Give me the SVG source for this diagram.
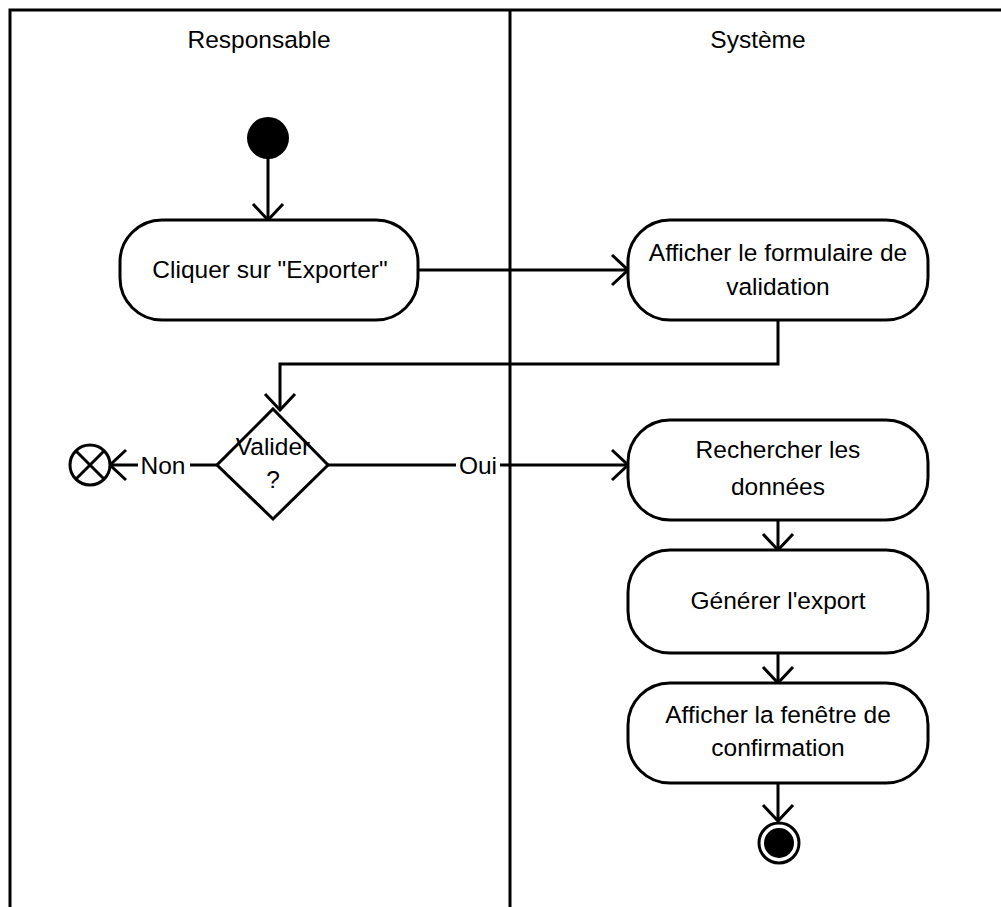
<svg xmlns="http://www.w3.org/2000/svg" width="1001" height="907" viewBox="0 0 1001 907">
<style>
.ln{fill:none;stroke:#000;stroke-width:3}
.box{fill:#fff;stroke:#000;stroke-width:3}
.t{font-family:"Liberation Sans",Arial,sans-serif;font-size:24.5px;fill:#000;text-anchor:middle}
</style>
<defs>
<marker id="arr" viewBox="0 0 20 34" refX="18" refY="17" markerWidth="20" markerHeight="34" markerUnits="userSpaceOnUse" orient="auto">
<path d="M2,2 L18,17 L2,32" fill="none" stroke="#000" stroke-width="3"/>
</marker>
</defs>
<rect width="1001" height="907" fill="#fff"/>
<g id="lanes">
<path class="ln" d="M10,907 V10 H1001"/>
<path class="ln" d="M510,10 V907"/>
<text class="t" x="259" y="48">Responsable</text>
<text class="t" x="758" y="48">Système</text>
</g>
<g id="connectors">
<path class="ln" d="M268,158 V220" marker-end="url(#arr)"/>
<path class="ln" d="M418,270 H628" marker-end="url(#arr)"/>
<path class="ln" d="M778,320 V364 H280 V410" marker-end="url(#arr)"/>
<path class="ln" d="M217,465 H190"/>
<path class="ln" d="M138,465 H110" marker-end="url(#arr)"/>
<text class="t" x="163" y="474">Non</text>
<path class="ln" d="M328,465 H456"/>
<path class="ln" d="M500,465 H628" marker-end="url(#arr)"/>
<text class="t" x="478" y="474">Oui</text>
<path class="ln" d="M778,520 V550" marker-end="url(#arr)"/>
<path class="ln" d="M778,653 V683" marker-end="url(#arr)"/>
<path class="ln" d="M778,783 V821" marker-end="url(#arr)"/>
</g>
<g id="start">
<circle cx="268" cy="138" r="21" fill="#000"/>
</g>
<g id="cliquer">
<rect class="box" x="120" y="220" width="298" height="100" rx="42"/>
<text class="t" x="270" y="278">Cliquer sur "Exporter"</text>
</g>
<g id="afficher-formulaire">
<rect class="box" x="628" y="220" width="300" height="100" rx="42"/>
<text class="t" x="778" y="261">Afficher le formulaire de</text>
<text class="t" x="778" y="295">validation</text>
</g>
<g id="valider">
<path class="box" d="M273,409 L328,465 L273,519 L217,465 Z"/>
<text class="t" x="273" y="455">Valider</text>
<text class="t" x="273" y="488">?</text>
</g>
<g id="flow-final">
<circle class="box" cx="90" cy="465" r="20"/>
<path class="ln" d="M76,451 L104,479 M104,451 L76,479"/>
</g>
<g id="rechercher">
<rect class="box" x="628" y="420" width="300" height="100" rx="42"/>
<text class="t" x="778" y="458">Rechercher les</text>
<text class="t" x="778" y="495">données</text>
</g>
<g id="generer">
<rect class="box" x="628" y="550" width="300" height="103" rx="42"/>
<text class="t" x="778" y="609">Générer l'export</text>
</g>
<g id="afficher-fenetre">
<rect class="box" x="628" y="683" width="300" height="100" rx="42"/>
<text class="t" x="778" y="723">Afficher la fenêtre de</text>
<text class="t" x="778" y="756">confirmation</text>
</g>
<g id="end">
<circle cx="779" cy="843" r="20" fill="#fff" stroke="#000" stroke-width="3"/>
<circle cx="779" cy="843" r="15" fill="#000"/>
</g>
</svg>
